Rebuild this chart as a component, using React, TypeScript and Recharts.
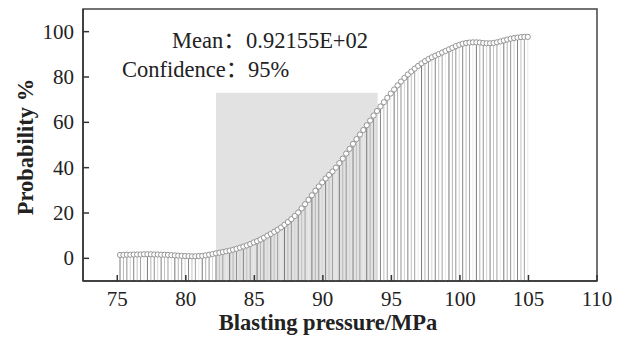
import {
  ComposedChart,
  Scatter,
  XAxis,
  YAxis,
  ReferenceArea,
  ReferenceLine,
  Label,
} from "recharts";

// blasting pressure samples (MPa)
const PRESSURE = [
  75.2, 75.45, 75.7, 75.95, 76.2, 76.45, 76.7, 76.95, 77.2, 77.45,
  77.7, 77.95, 78.2, 78.45, 78.7, 78.95, 79.2, 79.45, 79.7, 79.95,
  80.2, 80.45, 80.7, 80.95, 81.2, 81.45, 81.7, 81.95, 82.2, 82.45,
  82.7, 82.95, 83.2, 83.45, 83.7, 83.95, 84.2, 84.45, 84.7, 84.95,
  85.2, 85.45, 85.7, 85.95, 86.2, 86.45, 86.7, 86.95, 87.2, 87.45,
  87.7, 87.95, 88.2, 88.45, 88.7, 88.95, 89.2, 89.45, 89.7, 89.95,
  90.2, 90.45, 90.7, 90.95, 91.2, 91.45, 91.7, 91.95, 92.2, 92.45,
  92.7, 92.95, 93.2, 93.45, 93.7, 93.95, 94.2, 94.45, 94.7, 94.95,
  95.2, 95.45, 95.7, 95.95, 96.2, 96.45, 96.7, 96.95, 97.2, 97.45,
  97.7, 97.95, 98.2, 98.45, 98.7, 98.95, 99.2, 99.45, 99.7, 99.95,
  100.2, 100.45, 100.7, 100.95, 101.2, 101.45, 101.7, 101.95, 102.2, 102.45,
  102.7, 102.95, 103.2, 103.45, 103.7, 103.95, 104.2, 104.45, 104.7, 104.95,
];

// cumulative probability (%)
const PROBABILITY = [
  1.5, 1.5, 1.6, 1.6, 1.7, 1.7, 1.7, 1.8, 1.8, 1.8,
  1.7, 1.7, 1.6, 1.6, 1.5, 1.4, 1.3, 1.2, 1.1, 1.0,
  1.0, 0.9, 0.9, 1.0, 1.1, 1.3, 1.6, 1.9, 2.2, 2.5,
  2.8, 3.1, 3.4, 3.8, 4.2, 4.7, 5.2, 5.7, 6.3, 7.0,
  7.6, 8.3, 9.1, 10.0, 10.8, 11.7, 12.6, 13.6, 14.8, 16.0,
  17.3, 18.7, 20.2, 22.0, 23.9, 25.8, 27.8, 29.8, 31.7, 33.5,
  35.2, 36.8, 38.3, 40.0, 42.0, 44.0, 46.2, 48.3, 50.5, 52.6,
  54.6, 56.6, 58.7, 60.8, 63.0, 65.0, 67.0, 68.9, 70.8, 72.7,
  74.5, 76.3, 78.0, 79.6, 81.1, 82.4, 83.7, 84.9, 86.0, 87.0,
  87.9, 88.7, 89.4, 90.1, 90.8, 91.5, 92.2, 92.9, 93.6, 94.2,
  94.7, 95.0, 95.2, 95.3, 95.3, 95.2, 95.0, 94.9, 94.9, 95.0,
  95.3, 95.7, 96.1, 96.5, 96.9, 97.2, 97.4, 97.6, 97.7, 97.7,
];

const X_TICKS = [75, 80, 85, 90, 95, 100, 105, 110];
const Y_TICKS = [0, 20, 40, 60, 80, 100];

// confidence band
const BAND_X = [82.2, 94.0];
const BAND_TOP = 73;

const X_DOMAIN = [72.5, 110];
const Y_DOMAIN = [-10, 110];

const STEM_SHADES = [
  "#7a7a7a", "#b5b5b5", "#949494", "#d4d4d4",
  "#858585", "#c2c2c2", "#a2a2a2", "#ebebeb",
];

const FONT = "'Liberation Serif', 'Times New Roman', 'Noto Sans CJK SC', serif";
const INK = "#222";
const serif = { fontFamily: FONT };

const data = PRESSURE.map((x, i) => ({ x, y: PROBABILITY[i] }));

function XTick({ x, y, payload }: any) {
  return (
    <g>
      <line x1={x} y1={y} x2={x} y2={y - 6} stroke="#333" strokeWidth={1.5} />
      <text x={x} y={y + 25} textAnchor="middle" style={serif} fontSize={21} fill={INK}>
        {payload.value}
      </text>
    </g>
  );
}

function YTick({ x, y, payload }: any) {
  return (
    <g>
      <line x1={x} y1={y} x2={x + 6} y2={y} stroke="#333" strokeWidth={1.5} />
      <text x={x - 9} y={y + 7} textAnchor="end" style={serif} fontSize={21} fill={INK}>
        {payload.value}
      </text>
    </g>
  );
}

function Dot({ cx, cy }: any) {
  return <circle cx={cx} cy={cy} r={2.6} fill="#fff" stroke="#8a8a8a" strokeWidth={0.9} />;
}

export default function App() {
  return (
    <div style={{ position: "absolute", left: 0, top: 0, width: 626, height: 338, background: "#fff" }}>
      <ComposedChart width={626} height={338} data={data} margin={{ top: 9, right: 29, left: 0, bottom: 0 }}>
        <XAxis
          dataKey="x"
          type="number"
          domain={X_DOMAIN}
          ticks={X_TICKS}
          allowDataOverflow
          height={57}
          tickSize={0}
          tickMargin={0}
          tick={<XTick />}
          axisLine={{ stroke: "#333", strokeWidth: 1.5 }}
        >
          <Label
            content={({ viewBox }: any) => (
              <text
                x={viewBox.x + viewBox.width / 2 - 12}
                y={330}
                textAnchor="middle"
                style={serif}
                fontWeight="bold"
                fontSize={22.5}
                fill={INK}
              >
                Blasting pressure/MPa
              </text>
            )}
          />
        </XAxis>
        <YAxis
          dataKey="y"
          type="number"
          domain={Y_DOMAIN}
          ticks={Y_TICKS}
          allowDataOverflow
          width={83}
          tickSize={0}
          tickMargin={0}
          tick={<YTick />}
          axisLine={{ stroke: "#333", strokeWidth: 1.5 }}
        >
          <Label
            content={({ viewBox }: any) => {
              const cy = viewBox.y + viewBox.height / 2 + 2;
              return (
                <text
                  x={33}
                  y={cy}
                  transform={`rotate(-90 33 ${cy})`}
                  textAnchor="middle"
                  style={serif}
                  fontWeight="bold"
                  fontSize={22.5}
                  fill={INK}
                >
                  Probability %
                </text>
              );
            }}
          />
        </YAxis>

        <ReferenceArea
          x1={BAND_X[0]}
          x2={BAND_X[1]}
          y1={Y_DOMAIN[0]}
          y2={BAND_TOP}
          fill="#e2e2e2"
          fillOpacity={1}
          stroke="none"
        />

        {data.map((d, i) => (
          <ReferenceLine
            key={i}
            segment={[
              { x: d.x, y: Y_DOMAIN[0] },
              { x: d.x, y: d.y },
            ]}
            stroke={STEM_SHADES[i % STEM_SHADES.length]}
            strokeWidth={1}
          />
        ))}

        <Scatter data={data} dataKey="y" shape={<Dot />} isAnimationActive={false} />

        <ReferenceArea
          x1={X_DOMAIN[0]}
          x2={X_DOMAIN[1]}
          y1={Y_DOMAIN[0]}
          y2={Y_DOMAIN[1]}
          fill="none"
          stroke="#444"
          strokeWidth={1.5}
        />
      </ComposedChart>

      <svg
        width={626}
        height={338}
        style={{ position: "absolute", left: 0, top: 0, pointerEvents: "none" }}
      >
        <g fontSize={22.5} fill={INK}>
          <text x={172} y={48} style={serif}>Mean：</text>
          <text x={246} y={48} style={serif}>0.92155E+02</text>
          <text x={122} y={77} style={serif}>Confidence：</text>
          <text x={248} y={77} style={serif}>95%</text>
        </g>
      </svg>
    </div>
  );
}
